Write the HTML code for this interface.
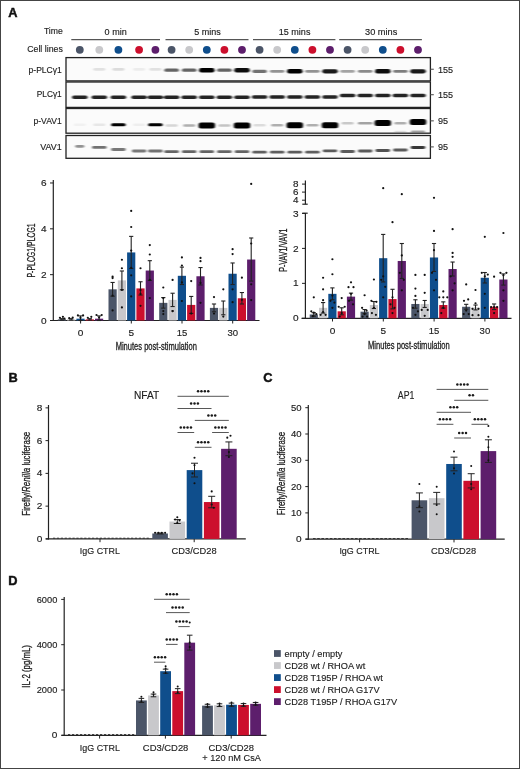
<!DOCTYPE html>
<html><head><meta charset="utf-8"><style>
html,body{margin:0;padding:0;background:#fff;}
#w{position:relative;width:520px;height:769px;overflow:hidden;}
svg{position:absolute;left:0;top:0;font-family:"Liberation Sans", sans-serif;will-change:transform;}
#b{position:absolute;left:0;top:0;width:518px;height:767px;border:1px solid #444;}
</style></head><body><div id="w">
<svg width="520" height="769" viewBox="0 0 520 769">
<rect x="0" y="0" width="520" height="769" fill="#fff"/>
<text x="8.2" y="17" font-size="12.8" font-weight="bold" fill="#111" stroke="#111" stroke-width="0.45">A</text>
<text x="62.8" y="34.4" font-size="9.3" text-anchor="end" textLength="18.9" lengthAdjust="spacingAndGlyphs" fill="#222" stroke="#222" stroke-width="0.15">Time</text>
<text x="62.8" y="51.7" font-size="9.3" text-anchor="end" textLength="35.6" lengthAdjust="spacingAndGlyphs" fill="#222" stroke="#222" stroke-width="0.15">Cell lines</text>
<text x="104.6" y="34.6" font-size="9" textLength="22.1" lengthAdjust="spacingAndGlyphs" fill="#222" stroke="#222" stroke-width="0.15">0 min</text>
<text x="194.2" y="34.6" font-size="9" textLength="26.6" lengthAdjust="spacingAndGlyphs" fill="#222" stroke="#222" stroke-width="0.15">5 mins</text>
<text x="278.8" y="34.6" font-size="9" textLength="31.6" lengthAdjust="spacingAndGlyphs" fill="#222" stroke="#222" stroke-width="0.15">15 mins</text>
<text x="365.0" y="34.6" font-size="9" textLength="32.3" lengthAdjust="spacingAndGlyphs" fill="#222" stroke="#222" stroke-width="0.15">30 mins</text>
<line x1="71.3" y1="39.6" x2="160" y2="39.6" stroke="#555" stroke-width="1.3"/>
<line x1="165.5" y1="39.6" x2="248.5" y2="39.6" stroke="#555" stroke-width="1.3"/>
<line x1="253" y1="39.6" x2="335.4" y2="39.6" stroke="#555" stroke-width="1.3"/>
<line x1="339.2" y1="39.6" x2="421.9" y2="39.6" stroke="#555" stroke-width="1.3"/>
<circle cx="79.80" cy="49.80" r="3.9" fill="#4b5568"/>
<circle cx="99.30" cy="49.80" r="3.9" fill="#c8c8cb"/>
<circle cx="118.40" cy="49.80" r="3.9" fill="#0f4e8c"/>
<circle cx="139.10" cy="49.80" r="3.9" fill="#cc0f2d"/>
<circle cx="155.40" cy="49.80" r="3.9" fill="#5d1e6c"/>
<circle cx="171.60" cy="49.80" r="3.9" fill="#4b5568"/>
<circle cx="189.20" cy="49.80" r="3.9" fill="#c8c8cb"/>
<circle cx="206.80" cy="49.80" r="3.9" fill="#0f4e8c"/>
<circle cx="224.40" cy="49.80" r="3.9" fill="#cc0f2d"/>
<circle cx="242.00" cy="49.80" r="3.9" fill="#5d1e6c"/>
<circle cx="259.60" cy="49.80" r="3.9" fill="#4b5568"/>
<circle cx="277.20" cy="49.80" r="3.9" fill="#c8c8cb"/>
<circle cx="294.80" cy="49.80" r="3.9" fill="#0f4e8c"/>
<circle cx="312.40" cy="49.80" r="3.9" fill="#cc0f2d"/>
<circle cx="330.00" cy="49.80" r="3.9" fill="#5d1e6c"/>
<circle cx="347.60" cy="49.80" r="3.9" fill="#4b5568"/>
<circle cx="365.20" cy="49.80" r="3.9" fill="#c8c8cb"/>
<circle cx="382.80" cy="49.80" r="3.9" fill="#0f4e8c"/>
<circle cx="400.40" cy="49.80" r="3.9" fill="#cc0f2d"/>
<circle cx="418.00" cy="49.80" r="3.9" fill="#5d1e6c"/>
<defs><filter id="bl" x="-30%" y="-100%" width="160%" height="300%"><feGaussianBlur stdDeviation="1.0 0.75"/></filter></defs>
<rect x="66.00" y="57.60" width="364.40" height="23.30" fill="#fbfbfb"/>
<rect x="66.00" y="82.00" width="364.40" height="25.40" fill="#fbfbfb"/>
<rect x="66.00" y="108.50" width="364.40" height="24.70" fill="#fbfbfb"/>
<rect x="66.00" y="135.50" width="364.40" height="22.80" fill="#fbfbfb"/>
<g filter="url(#bl)">
<rect x="93.30" y="67.90" width="12" height="2.80" rx="1.40" fill="#000" fill-opacity="0.10"/>
<rect x="112.40" y="67.90" width="12" height="2.80" rx="1.40" fill="#000" fill-opacity="0.12"/>
<rect x="133.10" y="67.90" width="12" height="2.80" rx="1.40" fill="#000" fill-opacity="0.06"/>
<rect x="149.40" y="67.90" width="12" height="2.80" rx="1.40" fill="#000" fill-opacity="0.10"/>
<rect x="164.35" y="68.54" width="14.5" height="3.32" rx="1.66" fill="#000" fill-opacity="0.60"/>
<rect x="181.95" y="68.54" width="14.5" height="3.32" rx="1.66" fill="#000" fill-opacity="0.60"/>
<rect x="199.05" y="67.90" width="15.5" height="4.60" rx="2.30" fill="#000" fill-opacity="1.00"/>
<rect x="217.15" y="68.54" width="14.5" height="3.32" rx="1.66" fill="#000" fill-opacity="0.60"/>
<rect x="234.25" y="67.98" width="15.5" height="4.44" rx="2.22" fill="#000" fill-opacity="0.95"/>
<rect x="252.35" y="69.72" width="14.5" height="3.16" rx="1.58" fill="#000" fill-opacity="0.55"/>
<rect x="269.95" y="69.90" width="14.5" height="2.80" rx="1.40" fill="#000" fill-opacity="0.42"/>
<rect x="287.05" y="69.00" width="15.5" height="4.60" rx="2.30" fill="#000" fill-opacity="1.00"/>
<rect x="305.15" y="69.90" width="14.5" height="2.80" rx="1.40" fill="#000" fill-opacity="0.42"/>
<rect x="322.25" y="69.16" width="15.5" height="4.28" rx="2.14" fill="#000" fill-opacity="0.90"/>
<rect x="340.35" y="69.90" width="14.5" height="2.80" rx="1.40" fill="#000" fill-opacity="0.35"/>
<rect x="357.95" y="69.90" width="14.5" height="2.80" rx="1.40" fill="#000" fill-opacity="0.45"/>
<rect x="375.05" y="69.08" width="15.5" height="4.44" rx="2.22" fill="#000" fill-opacity="0.95"/>
<rect x="393.15" y="69.90" width="14.5" height="2.80" rx="1.40" fill="#000" fill-opacity="0.50"/>
<rect x="410.25" y="69.16" width="15.5" height="4.28" rx="2.14" fill="#000" fill-opacity="0.90"/>
</g>
<g filter="url(#bl)">
<rect x="72.05" y="95.45" width="15.5" height="3.50" rx="1.75" fill="#000" fill-opacity="0.86"/>
<rect x="91.55" y="95.45" width="15.5" height="3.50" rx="1.75" fill="#000" fill-opacity="0.86"/>
<rect x="110.65" y="95.45" width="15.5" height="3.50" rx="1.75" fill="#000" fill-opacity="0.86"/>
<rect x="131.35" y="95.45" width="15.5" height="3.50" rx="1.75" fill="#000" fill-opacity="0.86"/>
<rect x="147.65" y="95.45" width="15.5" height="3.50" rx="1.75" fill="#000" fill-opacity="0.86"/>
<rect x="163.85" y="95.45" width="15.5" height="3.50" rx="1.75" fill="#000" fill-opacity="0.86"/>
<rect x="181.45" y="95.45" width="15.5" height="3.50" rx="1.75" fill="#000" fill-opacity="0.86"/>
<rect x="199.05" y="95.45" width="15.5" height="3.50" rx="1.75" fill="#000" fill-opacity="0.86"/>
<rect x="216.65" y="95.45" width="15.5" height="3.50" rx="1.75" fill="#000" fill-opacity="0.86"/>
<rect x="234.25" y="95.45" width="15.5" height="3.50" rx="1.75" fill="#000" fill-opacity="0.86"/>
<rect x="251.85" y="95.25" width="15.5" height="3.50" rx="1.75" fill="#000" fill-opacity="0.86"/>
<rect x="269.45" y="95.25" width="15.5" height="3.50" rx="1.75" fill="#000" fill-opacity="0.86"/>
<rect x="287.05" y="95.25" width="15.5" height="3.50" rx="1.75" fill="#000" fill-opacity="0.86"/>
<rect x="304.65" y="95.25" width="15.5" height="3.50" rx="1.75" fill="#000" fill-opacity="0.86"/>
<rect x="322.25" y="95.25" width="15.5" height="3.50" rx="1.75" fill="#000" fill-opacity="0.86"/>
<rect x="339.85" y="93.75" width="15.5" height="3.50" rx="1.75" fill="#000" fill-opacity="0.86"/>
<rect x="357.45" y="93.75" width="15.5" height="3.50" rx="1.75" fill="#000" fill-opacity="0.86"/>
<rect x="375.05" y="93.75" width="15.5" height="3.50" rx="1.75" fill="#000" fill-opacity="0.86"/>
<rect x="392.65" y="93.75" width="15.5" height="3.50" rx="1.75" fill="#000" fill-opacity="0.86"/>
<rect x="410.25" y="93.75" width="15.5" height="3.50" rx="1.75" fill="#000" fill-opacity="0.86"/>
</g>
<g filter="url(#bl)">
<rect x="73.80" y="123.40" width="12" height="2.60" rx="1.30" fill="#000" fill-opacity="0.04"/>
<rect x="93.30" y="123.40" width="12" height="2.60" rx="1.30" fill="#000" fill-opacity="0.08"/>
<rect x="111.15" y="123.20" width="14.5" height="3.00" rx="1.50" fill="#000" fill-opacity="1.00"/>
<rect x="133.10" y="123.40" width="12" height="2.60" rx="1.30" fill="#000" fill-opacity="0.05"/>
<rect x="148.15" y="123.20" width="14.5" height="3.00" rx="1.50" fill="#000" fill-opacity="1.00"/>
<rect x="165.60" y="124.20" width="12" height="2.60" rx="1.30" fill="#000" fill-opacity="0.15"/>
<rect x="183.20" y="124.20" width="12" height="2.60" rx="1.30" fill="#000" fill-opacity="0.30"/>
<rect x="198.55" y="122.50" width="16.5" height="6.00" rx="2.50" fill="#000" fill-opacity="1.00"/>
<rect x="218.40" y="124.20" width="12" height="2.60" rx="1.30" fill="#000" fill-opacity="0.22"/>
<rect x="233.75" y="122.50" width="16.5" height="6.00" rx="2.50" fill="#000" fill-opacity="1.00"/>
<rect x="253.60" y="123.90" width="12" height="2.60" rx="1.30" fill="#000" fill-opacity="0.12"/>
<rect x="271.20" y="123.90" width="12" height="2.60" rx="1.30" fill="#000" fill-opacity="0.30"/>
<rect x="286.55" y="122.20" width="16.5" height="6.00" rx="2.50" fill="#000" fill-opacity="1.00"/>
<rect x="306.40" y="123.90" width="12" height="2.60" rx="1.30" fill="#000" fill-opacity="0.30"/>
<rect x="321.75" y="122.20" width="16.5" height="6.00" rx="2.50" fill="#000" fill-opacity="1.00"/>
<rect x="341.60" y="121.90" width="12" height="2.60" rx="1.30" fill="#000" fill-opacity="0.20"/>
<rect x="357.95" y="121.90" width="14.5" height="2.60" rx="1.30" fill="#000" fill-opacity="0.35"/>
<rect x="374.55" y="119.90" width="16.5" height="6.00" rx="2.50" fill="#000" fill-opacity="1.00"/>
<rect x="394.40" y="121.90" width="12" height="2.60" rx="1.30" fill="#000" fill-opacity="0.30"/>
<rect x="409.75" y="118.90" width="16.5" height="6.00" rx="2.50" fill="#000" fill-opacity="1.00"/>
<rect x="411.00" y="130.6" width="14" height="2" rx="1" fill="#000" fill-opacity="0.35"/>
<rect x="394.40" y="130.8" width="12" height="1.8" rx="0.9" fill="#000" fill-opacity="0.12"/>
</g>
<g filter="url(#bl)">
<rect x="75.30" y="144.90" width="9" height="2.80" rx="1.40" fill="#000" fill-opacity="0.42"/>
<rect x="92.05" y="146.00" width="14.5" height="2.80" rx="1.40" fill="#000" fill-opacity="0.55"/>
<rect x="111.15" y="148.10" width="14.5" height="2.80" rx="1.40" fill="#000" fill-opacity="0.52"/>
<rect x="131.85" y="149.60" width="14.5" height="2.80" rx="1.40" fill="#000" fill-opacity="0.52"/>
<rect x="148.15" y="149.60" width="14.5" height="2.80" rx="1.40" fill="#000" fill-opacity="0.55"/>
<rect x="164.35" y="150.30" width="14.5" height="2.80" rx="1.40" fill="#000" fill-opacity="0.60"/>
<rect x="181.95" y="150.30" width="14.5" height="2.80" rx="1.40" fill="#000" fill-opacity="0.60"/>
<rect x="199.55" y="150.30" width="14.5" height="2.80" rx="1.40" fill="#000" fill-opacity="0.60"/>
<rect x="217.15" y="150.30" width="14.5" height="2.80" rx="1.40" fill="#000" fill-opacity="0.60"/>
<rect x="234.75" y="150.30" width="14.5" height="2.80" rx="1.40" fill="#000" fill-opacity="0.60"/>
<rect x="252.35" y="150.80" width="14.5" height="2.80" rx="1.40" fill="#000" fill-opacity="0.62"/>
<rect x="269.95" y="150.80" width="14.5" height="2.80" rx="1.40" fill="#000" fill-opacity="0.62"/>
<rect x="287.55" y="150.80" width="14.5" height="2.80" rx="1.40" fill="#000" fill-opacity="0.64"/>
<rect x="305.15" y="150.80" width="14.5" height="2.80" rx="1.40" fill="#000" fill-opacity="0.62"/>
<rect x="322.75" y="149.40" width="14.5" height="2.80" rx="1.40" fill="#000" fill-opacity="0.64"/>
<rect x="340.35" y="150.10" width="14.5" height="2.80" rx="1.40" fill="#000" fill-opacity="0.64"/>
<rect x="357.95" y="149.60" width="14.5" height="2.80" rx="1.40" fill="#000" fill-opacity="0.64"/>
<rect x="375.55" y="149.10" width="14.5" height="2.80" rx="1.40" fill="#000" fill-opacity="0.68"/>
<rect x="393.15" y="148.60" width="14.5" height="2.80" rx="1.40" fill="#000" fill-opacity="0.64"/>
<rect x="410.75" y="146.10" width="14.5" height="2.80" rx="1.40" fill="#000" fill-opacity="0.78"/>
</g>
<rect x="66" y="57.6" width="364.4" height="23.300000000000004" fill="none" stroke="#222" stroke-width="1.3"/>
<text x="61.7" y="72.7" font-size="9" text-anchor="end" textLength="33.1" lengthAdjust="spacingAndGlyphs" fill="#222" stroke="#222" stroke-width="0.15">p-PLC&#947;1</text>
<line x1="430.4" y1="69.25" x2="433.79999999999995" y2="69.25" stroke="#555" stroke-width="1.1"/>
<text x="438.0" y="72.55" font-size="9.2" textLength="15.1" lengthAdjust="spacingAndGlyphs" fill="#222" stroke="#222" stroke-width="0.15">155</text>
<rect x="66" y="82.0" width="364.4" height="25.400000000000006" fill="none" stroke="#222" stroke-width="1.3"/>
<text x="61.7" y="97.4" font-size="9" text-anchor="end" textLength="25.0" lengthAdjust="spacingAndGlyphs" fill="#222" stroke="#222" stroke-width="0.15">PLC&#947;1</text>
<line x1="430.4" y1="94.7" x2="433.79999999999995" y2="94.7" stroke="#555" stroke-width="1.1"/>
<text x="438.0" y="98.0" font-size="9.2" textLength="15.1" lengthAdjust="spacingAndGlyphs" fill="#222" stroke="#222" stroke-width="0.15">155</text>
<rect x="66" y="108.5" width="364.4" height="24.69999999999999" fill="none" stroke="#222" stroke-width="1.3"/>
<text x="61.7" y="124.1" font-size="9" text-anchor="end" textLength="28.2" lengthAdjust="spacingAndGlyphs" fill="#222" stroke="#222" stroke-width="0.15">p-VAV1</text>
<line x1="430.4" y1="120.85" x2="433.79999999999995" y2="120.85" stroke="#555" stroke-width="1.1"/>
<text x="438.0" y="124.14999999999999" font-size="9.2" textLength="10.1" lengthAdjust="spacingAndGlyphs" fill="#222" stroke="#222" stroke-width="0.15">95</text>
<rect x="66" y="135.5" width="364.4" height="22.80000000000001" fill="none" stroke="#222" stroke-width="1.3"/>
<text x="61.7" y="149.7" font-size="9" text-anchor="end" textLength="21.5" lengthAdjust="spacingAndGlyphs" fill="#222" stroke="#222" stroke-width="0.15">VAV1</text>
<line x1="430.4" y1="146.9" x2="433.79999999999995" y2="146.9" stroke="#555" stroke-width="1.1"/>
<text x="438.0" y="150.20000000000002" font-size="9.2" textLength="10.1" lengthAdjust="spacingAndGlyphs" fill="#222" stroke="#222" stroke-width="0.15">95</text>
<line x1="53.3" y1="180" x2="53.3" y2="321" stroke="#222" stroke-width="1.2"/>
<line x1="50" y1="320.5" x2="259.5" y2="320.5" stroke="#222" stroke-width="1.2"/>
<line x1="50" y1="320.5" x2="53.3" y2="320.5" stroke="#222" stroke-width="1"/>
<text x="46.5" y="323.61" font-size="8.7" text-anchor="end" textLength="5.6" lengthAdjust="spacingAndGlyphs" fill="#222" stroke="#222" stroke-width="0.14">0</text>
<line x1="50" y1="274.65999999999997" x2="53.3" y2="274.65999999999997" stroke="#222" stroke-width="1"/>
<text x="46.5" y="277.77" font-size="8.7" text-anchor="end" textLength="5.6" lengthAdjust="spacingAndGlyphs" fill="#222" stroke="#222" stroke-width="0.14">2</text>
<line x1="50" y1="228.82" x2="53.3" y2="228.82" stroke="#222" stroke-width="1"/>
<text x="46.5" y="231.93" font-size="8.7" text-anchor="end" textLength="5.6" lengthAdjust="spacingAndGlyphs" fill="#222" stroke="#222" stroke-width="0.14">4</text>
<line x1="50" y1="182.98" x2="53.3" y2="182.98" stroke="#222" stroke-width="1"/>
<text x="46.5" y="186.09" font-size="8.7" text-anchor="end" textLength="5.6" lengthAdjust="spacingAndGlyphs" fill="#222" stroke="#222" stroke-width="0.14">6</text>
<text x="0" y="0" font-size="10.3" text-anchor="middle" textLength="54.2" lengthAdjust="spacingAndGlyphs" fill="#222" stroke="#222" stroke-width="0.3" transform="translate(34.8,250.4) rotate(-90)">P-PLCG1/PLCG1</text>
<rect x="57.80" y="319.35" width="8.20" height="1.15" fill="#4b5568"/>
<rect x="67.10" y="319.35" width="8.20" height="1.15" fill="#c8c8cb"/>
<rect x="76.40" y="318.67" width="8.20" height="1.83" fill="#0f4e8c"/>
<rect x="85.70" y="319.35" width="8.20" height="1.15" fill="#cc0f2d"/>
<rect x="95.00" y="318.67" width="8.20" height="1.83" fill="#5d1e6c"/>
<line x1="61.9" y1="318.6664" x2="61.9" y2="320.0416" stroke="#222" stroke-width="1.1"/>
<line x1="59.8" y1="318.6664" x2="64.0" y2="318.6664" stroke="#222" stroke-width="1.1"/>
<line x1="59.8" y1="320.0416" x2="64.0" y2="320.0416" stroke="#222" stroke-width="1.1"/>
<circle cx="59.90" cy="317.75" r="1.1" fill="#111"/>
<circle cx="62.90" cy="316.83" r="1.1" fill="#111"/>
<circle cx="64.50" cy="318.67" r="1.1" fill="#111"/>
<line x1="71.19999999999999" y1="318.6664" x2="71.19999999999999" y2="320.0416" stroke="#222" stroke-width="1.1"/>
<line x1="69.1" y1="318.6664" x2="73.29999999999998" y2="318.6664" stroke="#222" stroke-width="1.1"/>
<line x1="69.1" y1="320.0416" x2="73.29999999999998" y2="320.0416" stroke="#222" stroke-width="1.1"/>
<circle cx="69.20" cy="318.21" r="1.1" fill="#111"/>
<circle cx="72.70" cy="317.52" r="1.1" fill="#111"/>
<line x1="80.5" y1="315.916" x2="80.5" y2="320.5" stroke="#222" stroke-width="1.1"/>
<line x1="78.4" y1="315.916" x2="82.6" y2="315.916" stroke="#222" stroke-width="1.1"/>
<line x1="78.4" y1="320.5" x2="82.6" y2="320.5" stroke="#222" stroke-width="1.1"/>
<circle cx="77.90" cy="315.46" r="1.1" fill="#111"/>
<circle cx="83.10" cy="315.46" r="1.1" fill="#111"/>
<circle cx="80.50" cy="317.75" r="1.1" fill="#111"/>
<line x1="89.8" y1="318.6664" x2="89.8" y2="320.0416" stroke="#222" stroke-width="1.1"/>
<line x1="87.7" y1="318.6664" x2="91.89999999999999" y2="318.6664" stroke="#222" stroke-width="1.1"/>
<line x1="87.7" y1="320.0416" x2="91.89999999999999" y2="320.0416" stroke="#222" stroke-width="1.1"/>
<circle cx="87.80" cy="317.75" r="1.1" fill="#111"/>
<circle cx="91.30" cy="316.83" r="1.1" fill="#111"/>
<line x1="99.1" y1="315.916" x2="99.1" y2="320.5" stroke="#222" stroke-width="1.1"/>
<line x1="97.0" y1="315.916" x2="101.19999999999999" y2="315.916" stroke="#222" stroke-width="1.1"/>
<line x1="97.0" y1="320.5" x2="101.19999999999999" y2="320.5" stroke="#222" stroke-width="1.1"/>
<circle cx="96.50" cy="315.00" r="1.1" fill="#111"/>
<circle cx="101.70" cy="315.00" r="1.1" fill="#111"/>
<circle cx="99.10" cy="317.52" r="1.1" fill="#111"/>
<line x1="80.6" y1="320.5" x2="80.6" y2="323.5" stroke="#222" stroke-width="1"/>
<text x="80.6" y="335.61" font-size="8.7" text-anchor="middle" textLength="5.6" lengthAdjust="spacingAndGlyphs" fill="#222" stroke="#222" stroke-width="0.14">0</text>
<rect x="108.50" y="289.33" width="8.20" height="31.17" fill="#4b5568"/>
<rect x="117.80" y="280.39" width="8.20" height="40.11" fill="#c8c8cb"/>
<rect x="127.10" y="252.43" width="8.20" height="68.07" fill="#0f4e8c"/>
<rect x="136.40" y="288.41" width="8.20" height="32.09" fill="#cc0f2d"/>
<rect x="145.70" y="270.53" width="8.20" height="49.97" fill="#5d1e6c"/>
<line x1="112.6" y1="282.4528" x2="112.6" y2="296.2048" stroke="#222" stroke-width="1.1"/>
<line x1="110.5" y1="282.4528" x2="114.69999999999999" y2="282.4528" stroke="#222" stroke-width="1.1"/>
<line x1="110.5" y1="296.2048" x2="114.69999999999999" y2="296.2048" stroke="#222" stroke-width="1.1"/>
<circle cx="112.60" cy="276.72" r="1.1" fill="#111"/>
<circle cx="112.60" cy="278.10" r="1.1" fill="#111"/>
<circle cx="112.60" cy="295.52" r="1.1" fill="#111"/>
<circle cx="112.60" cy="310.42" r="1.1" fill="#111"/>
<line x1="121.89999999999999" y1="270.9928" x2="121.89999999999999" y2="289.7872" stroke="#222" stroke-width="1.1"/>
<line x1="119.8" y1="270.9928" x2="123.99999999999999" y2="270.9928" stroke="#222" stroke-width="1.1"/>
<line x1="119.8" y1="289.7872" x2="123.99999999999999" y2="289.7872" stroke="#222" stroke-width="1.1"/>
<circle cx="121.90" cy="259.76" r="1.1" fill="#111"/>
<circle cx="121.90" cy="268.24" r="1.1" fill="#111"/>
<circle cx="121.90" cy="290.02" r="1.1" fill="#111"/>
<circle cx="121.90" cy="307.44" r="1.1" fill="#111"/>
<line x1="131.2" y1="236.3836" x2="131.2" y2="268.47159999999997" stroke="#222" stroke-width="1.1"/>
<line x1="129.1" y1="236.3836" x2="133.29999999999998" y2="236.3836" stroke="#222" stroke-width="1.1"/>
<line x1="129.1" y1="268.47159999999997" x2="133.29999999999998" y2="268.47159999999997" stroke="#222" stroke-width="1.1"/>
<circle cx="131.20" cy="210.94" r="1.1" fill="#111"/>
<circle cx="131.20" cy="226.99" r="1.1" fill="#111"/>
<circle cx="131.20" cy="250.59" r="1.1" fill="#111"/>
<circle cx="131.20" cy="267.78" r="1.1" fill="#111"/>
<circle cx="131.20" cy="275.35" r="1.1" fill="#111"/>
<circle cx="131.20" cy="296.43" r="1.1" fill="#111"/>
<line x1="140.5" y1="281.7652" x2="140.5" y2="295.0588" stroke="#222" stroke-width="1.1"/>
<line x1="138.4" y1="281.7652" x2="142.6" y2="281.7652" stroke="#222" stroke-width="1.1"/>
<line x1="138.4" y1="295.0588" x2="142.6" y2="295.0588" stroke="#222" stroke-width="1.1"/>
<circle cx="140.50" cy="268.24" r="1.1" fill="#111"/>
<circle cx="140.50" cy="290.02" r="1.1" fill="#111"/>
<circle cx="140.50" cy="293.91" r="1.1" fill="#111"/>
<circle cx="140.50" cy="305.83" r="1.1" fill="#111"/>
<line x1="149.79999999999998" y1="260.67879999999997" x2="149.79999999999998" y2="280.39" stroke="#222" stroke-width="1.1"/>
<line x1="147.7" y1="260.67879999999997" x2="151.89999999999998" y2="260.67879999999997" stroke="#222" stroke-width="1.1"/>
<line x1="147.7" y1="280.39" x2="151.89999999999998" y2="280.39" stroke="#222" stroke-width="1.1"/>
<circle cx="149.80" cy="245.09" r="1.1" fill="#111"/>
<circle cx="149.80" cy="254.49" r="1.1" fill="#111"/>
<circle cx="149.80" cy="279.93" r="1.1" fill="#111"/>
<circle cx="149.80" cy="298.04" r="1.1" fill="#111"/>
<line x1="131.3" y1="320.5" x2="131.3" y2="323.5" stroke="#222" stroke-width="1"/>
<text x="131.3" y="335.61" font-size="8.7" text-anchor="middle" textLength="5.6" lengthAdjust="spacingAndGlyphs" fill="#222" stroke="#222" stroke-width="0.14">5</text>
<rect x="159.20" y="302.85" width="8.20" height="17.65" fill="#4b5568"/>
<rect x="168.50" y="299.87" width="8.20" height="20.63" fill="#c8c8cb"/>
<rect x="177.80" y="275.81" width="8.20" height="44.69" fill="#0f4e8c"/>
<rect x="187.10" y="304.91" width="8.20" height="15.59" fill="#cc0f2d"/>
<rect x="196.40" y="276.26" width="8.20" height="44.24" fill="#5d1e6c"/>
<line x1="163.29999999999998" y1="297.58" x2="163.29999999999998" y2="308.1232" stroke="#222" stroke-width="1.1"/>
<line x1="161.2" y1="297.58" x2="165.39999999999998" y2="297.58" stroke="#222" stroke-width="1.1"/>
<line x1="161.2" y1="308.1232" x2="165.39999999999998" y2="308.1232" stroke="#222" stroke-width="1.1"/>
<circle cx="163.30" cy="287.50" r="1.1" fill="#111"/>
<circle cx="163.30" cy="298.04" r="1.1" fill="#111"/>
<circle cx="163.30" cy="311.10" r="1.1" fill="#111"/>
<circle cx="163.30" cy="314.08" r="1.1" fill="#111"/>
<line x1="172.6" y1="293.2252" x2="172.6" y2="306.5188" stroke="#222" stroke-width="1.1"/>
<line x1="170.5" y1="293.2252" x2="174.7" y2="293.2252" stroke="#222" stroke-width="1.1"/>
<line x1="170.5" y1="306.5188" x2="174.7" y2="306.5188" stroke="#222" stroke-width="1.1"/>
<circle cx="172.60" cy="279.93" r="1.1" fill="#111"/>
<circle cx="172.60" cy="311.10" r="1.1" fill="#111"/>
<circle cx="172.60" cy="311.10" r="1.1" fill="#111"/>
<line x1="181.89999999999998" y1="267.0964" x2="181.89999999999998" y2="284.5156" stroke="#222" stroke-width="1.1"/>
<line x1="179.79999999999998" y1="267.0964" x2="183.99999999999997" y2="267.0964" stroke="#222" stroke-width="1.1"/>
<line x1="179.79999999999998" y1="284.5156" x2="183.99999999999997" y2="284.5156" stroke="#222" stroke-width="1.1"/>
<circle cx="181.90" cy="257.47" r="1.1" fill="#111"/>
<circle cx="181.90" cy="265.49" r="1.1" fill="#111"/>
<circle cx="181.90" cy="282.45" r="1.1" fill="#111"/>
<circle cx="181.90" cy="301.02" r="1.1" fill="#111"/>
<line x1="191.2" y1="296.43399999999997" x2="191.2" y2="313.3948" stroke="#222" stroke-width="1.1"/>
<line x1="189.1" y1="296.43399999999997" x2="193.29999999999998" y2="296.43399999999997" stroke="#222" stroke-width="1.1"/>
<line x1="189.1" y1="313.3948" x2="193.29999999999998" y2="313.3948" stroke="#222" stroke-width="1.1"/>
<circle cx="191.20" cy="281.08" r="1.1" fill="#111"/>
<circle cx="191.20" cy="313.62" r="1.1" fill="#111"/>
<line x1="200.49999999999997" y1="267.5548" x2="200.49999999999997" y2="284.974" stroke="#222" stroke-width="1.1"/>
<line x1="198.39999999999998" y1="267.5548" x2="202.59999999999997" y2="267.5548" stroke="#222" stroke-width="1.1"/>
<line x1="198.39999999999998" y1="284.974" x2="202.59999999999997" y2="284.974" stroke="#222" stroke-width="1.1"/>
<circle cx="200.50" cy="257.93" r="1.1" fill="#111"/>
<circle cx="200.50" cy="261.14" r="1.1" fill="#111"/>
<circle cx="200.50" cy="282.91" r="1.1" fill="#111"/>
<circle cx="200.50" cy="302.85" r="1.1" fill="#111"/>
<line x1="182.0" y1="320.5" x2="182.0" y2="323.5" stroke="#222" stroke-width="1"/>
<text x="182.0" y="335.61" font-size="8.7" text-anchor="middle" textLength="10.6" lengthAdjust="spacingAndGlyphs" fill="#222" stroke="#222" stroke-width="0.14">15</text>
<rect x="209.90" y="307.89" width="8.20" height="12.61" fill="#4b5568"/>
<rect x="219.20" y="307.89" width="8.20" height="12.61" fill="#c8c8cb"/>
<rect x="228.50" y="273.74" width="8.20" height="46.76" fill="#0f4e8c"/>
<rect x="237.80" y="298.27" width="8.20" height="22.23" fill="#cc0f2d"/>
<rect x="247.10" y="259.53" width="8.20" height="60.97" fill="#5d1e6c"/>
<line x1="214.0" y1="303.9976" x2="214.0" y2="311.7904" stroke="#222" stroke-width="1.1"/>
<line x1="211.9" y1="303.9976" x2="216.1" y2="303.9976" stroke="#222" stroke-width="1.1"/>
<line x1="211.9" y1="311.7904" x2="216.1" y2="311.7904" stroke="#222" stroke-width="1.1"/>
<circle cx="214.00" cy="297.12" r="1.1" fill="#111"/>
<circle cx="214.00" cy="313.62" r="1.1" fill="#111"/>
<line x1="223.3" y1="301.018" x2="223.3" y2="314.77" stroke="#222" stroke-width="1.1"/>
<line x1="221.20000000000002" y1="301.018" x2="225.4" y2="301.018" stroke="#222" stroke-width="1.1"/>
<line x1="221.20000000000002" y1="314.77" x2="225.4" y2="314.77" stroke="#222" stroke-width="1.1"/>
<circle cx="223.30" cy="289.33" r="1.1" fill="#111"/>
<circle cx="223.30" cy="316.60" r="1.1" fill="#111"/>
<line x1="232.6" y1="262.9708" x2="232.6" y2="284.5156" stroke="#222" stroke-width="1.1"/>
<line x1="230.5" y1="262.9708" x2="234.7" y2="262.9708" stroke="#222" stroke-width="1.1"/>
<line x1="230.5" y1="284.5156" x2="234.7" y2="284.5156" stroke="#222" stroke-width="1.1"/>
<circle cx="232.60" cy="249.22" r="1.1" fill="#111"/>
<circle cx="232.60" cy="254.03" r="1.1" fill="#111"/>
<circle cx="232.60" cy="289.33" r="1.1" fill="#111"/>
<circle cx="232.60" cy="302.16" r="1.1" fill="#111"/>
<line x1="241.9" y1="292.5376" x2="241.9" y2="303.9976" stroke="#222" stroke-width="1.1"/>
<line x1="239.8" y1="292.5376" x2="244.0" y2="292.5376" stroke="#222" stroke-width="1.1"/>
<line x1="239.8" y1="303.9976" x2="244.0" y2="303.9976" stroke="#222" stroke-width="1.1"/>
<circle cx="241.90" cy="277.64" r="1.1" fill="#111"/>
<circle cx="241.90" cy="299.87" r="1.1" fill="#111"/>
<line x1="251.20000000000002" y1="237.988" x2="251.20000000000002" y2="281.07759999999996" stroke="#222" stroke-width="1.1"/>
<line x1="249.10000000000002" y1="237.988" x2="253.3" y2="237.988" stroke="#222" stroke-width="1.1"/>
<line x1="249.10000000000002" y1="281.07759999999996" x2="253.3" y2="281.07759999999996" stroke="#222" stroke-width="1.1"/>
<circle cx="251.20" cy="183.90" r="1.1" fill="#111"/>
<circle cx="251.20" cy="243.49" r="1.1" fill="#111"/>
<circle cx="251.20" cy="284.29" r="1.1" fill="#111"/>
<circle cx="251.20" cy="300.10" r="1.1" fill="#111"/>
<line x1="232.70000000000002" y1="320.5" x2="232.70000000000002" y2="323.5" stroke="#222" stroke-width="1"/>
<text x="232.7" y="335.61" font-size="8.7" text-anchor="middle" textLength="10.6" lengthAdjust="spacingAndGlyphs" fill="#222" stroke="#222" stroke-width="0.14">30</text>
<text x="156.3" y="350.4" font-size="10.2" text-anchor="middle" textLength="81.3" lengthAdjust="spacingAndGlyphs" fill="#222" stroke="#222" stroke-width="0.3">Minutes post-stimulation</text>
<line x1="305.4" y1="213" x2="305.4" y2="318.8" stroke="#222" stroke-width="1.2"/>
<line x1="305.4" y1="180.4" x2="305.4" y2="204.2" stroke="#222" stroke-width="1.2"/>
<line x1="302.3" y1="204.2" x2="307.7" y2="204.2" stroke="#222" stroke-width="1.2"/>
<line x1="302.3" y1="213.2" x2="307.7" y2="213.2" stroke="#222" stroke-width="1.2"/>
<line x1="301.5" y1="318.3" x2="511.5" y2="318.3" stroke="#222" stroke-width="1.2"/>
<line x1="302" y1="318.3" x2="305.4" y2="318.3" stroke="#222" stroke-width="1"/>
<text x="298.6" y="321.41" font-size="8.7" text-anchor="end" textLength="5.6" lengthAdjust="spacingAndGlyphs" fill="#222" stroke="#222" stroke-width="0.14">0</text>
<line x1="302" y1="283.35" x2="305.4" y2="283.35" stroke="#222" stroke-width="1"/>
<text x="298.6" y="286.46" font-size="8.7" text-anchor="end" textLength="5.6" lengthAdjust="spacingAndGlyphs" fill="#222" stroke="#222" stroke-width="0.14">1</text>
<line x1="302" y1="248.4" x2="305.4" y2="248.4" stroke="#222" stroke-width="1"/>
<text x="298.6" y="251.51" font-size="8.7" text-anchor="end" textLength="5.6" lengthAdjust="spacingAndGlyphs" fill="#222" stroke="#222" stroke-width="0.14">2</text>
<line x1="302" y1="213.45" x2="305.4" y2="213.45" stroke="#222" stroke-width="1"/>
<text x="298.6" y="216.56" font-size="8.7" text-anchor="end" textLength="5.6" lengthAdjust="spacingAndGlyphs" fill="#222" stroke="#222" stroke-width="0.14">3</text>
<line x1="302" y1="200.2" x2="305.4" y2="200.2" stroke="#222" stroke-width="1"/>
<text x="298.6" y="203.14" font-size="8.2" text-anchor="end" textLength="5.5" lengthAdjust="spacingAndGlyphs" fill="#222" stroke="#222" stroke-width="0.14">4</text>
<line x1="302" y1="192.1" x2="305.4" y2="192.1" stroke="#222" stroke-width="1"/>
<text x="298.6" y="195.04" font-size="8.2" text-anchor="end" textLength="5.5" lengthAdjust="spacingAndGlyphs" fill="#222" stroke="#222" stroke-width="0.14">6</text>
<line x1="302" y1="184.1" x2="305.4" y2="184.1" stroke="#222" stroke-width="1"/>
<text x="298.6" y="187.04" font-size="8.2" text-anchor="end" textLength="5.5" lengthAdjust="spacingAndGlyphs" fill="#222" stroke="#222" stroke-width="0.14">8</text>
<text x="0" y="0" font-size="10.3" text-anchor="middle" textLength="43.2" lengthAdjust="spacingAndGlyphs" fill="#222" stroke="#222" stroke-width="0.3" transform="translate(286.8,250.2) rotate(-90)">P-VAV1/VAV1</text>
<rect x="309.70" y="314.46" width="8.20" height="3.84" fill="#4b5568"/>
<rect x="319.00" y="307.81" width="8.20" height="10.49" fill="#c8c8cb"/>
<rect x="328.30" y="293.84" width="8.20" height="24.46" fill="#0f4e8c"/>
<rect x="337.60" y="311.31" width="8.20" height="6.99" fill="#cc0f2d"/>
<rect x="346.90" y="296.63" width="8.20" height="21.67" fill="#5d1e6c"/>
<line x1="313.8" y1="312.708" x2="313.8" y2="316.20300000000003" stroke="#222" stroke-width="1.1"/>
<line x1="311.7" y1="312.708" x2="315.90000000000003" y2="312.708" stroke="#222" stroke-width="1.1"/>
<line x1="311.7" y1="316.20300000000003" x2="315.90000000000003" y2="316.20300000000003" stroke="#222" stroke-width="1.1"/>
<circle cx="313.80" cy="297.33" r="1.1" fill="#111"/>
<circle cx="311.30" cy="311.31" r="1.1" fill="#111"/>
<circle cx="313.80" cy="312.71" r="1.1" fill="#111"/>
<circle cx="316.30" cy="314.11" r="1.1" fill="#111"/>
<circle cx="312.80" cy="316.20" r="1.1" fill="#111"/>
<line x1="323.1" y1="302.5725" x2="323.1" y2="313.0575" stroke="#222" stroke-width="1.1"/>
<line x1="321.0" y1="302.5725" x2="325.20000000000005" y2="302.5725" stroke="#222" stroke-width="1.1"/>
<line x1="321.0" y1="313.0575" x2="325.20000000000005" y2="313.0575" stroke="#222" stroke-width="1.1"/>
<circle cx="323.10" cy="277.76" r="1.1" fill="#111"/>
<circle cx="323.10" cy="289.29" r="1.1" fill="#111"/>
<circle cx="323.10" cy="300.13" r="1.1" fill="#111"/>
<circle cx="323.10" cy="312.01" r="1.1" fill="#111"/>
<circle cx="320.60" cy="314.81" r="1.1" fill="#111"/>
<circle cx="325.60" cy="314.81" r="1.1" fill="#111"/>
<line x1="332.40000000000003" y1="287.8935" x2="332.40000000000003" y2="299.7765" stroke="#222" stroke-width="1.1"/>
<line x1="330.3" y1="287.8935" x2="334.50000000000006" y2="287.8935" stroke="#222" stroke-width="1.1"/>
<line x1="330.3" y1="299.7765" x2="334.50000000000006" y2="299.7765" stroke="#222" stroke-width="1.1"/>
<circle cx="332.40" cy="259.23" r="1.1" fill="#111"/>
<circle cx="332.40" cy="274.26" r="1.1" fill="#111"/>
<circle cx="330.40" cy="300.82" r="1.1" fill="#111"/>
<circle cx="332.40" cy="295.58" r="1.1" fill="#111"/>
<circle cx="334.40" cy="302.57" r="1.1" fill="#111"/>
<circle cx="332.40" cy="307.81" r="1.1" fill="#111"/>
<line x1="341.7" y1="307.815" x2="341.7" y2="314.805" stroke="#222" stroke-width="1.1"/>
<line x1="339.59999999999997" y1="307.815" x2="343.8" y2="307.815" stroke="#222" stroke-width="1.1"/>
<line x1="339.59999999999997" y1="314.805" x2="343.8" y2="314.805" stroke="#222" stroke-width="1.1"/>
<circle cx="341.70" cy="298.03" r="1.1" fill="#111"/>
<circle cx="338.70" cy="306.77" r="1.1" fill="#111"/>
<circle cx="344.70" cy="306.77" r="1.1" fill="#111"/>
<circle cx="341.70" cy="313.06" r="1.1" fill="#111"/>
<circle cx="339.70" cy="316.55" r="1.1" fill="#111"/>
<line x1="351.0" y1="293.136" x2="351.0" y2="300.12600000000003" stroke="#222" stroke-width="1.1"/>
<line x1="348.9" y1="293.136" x2="353.1" y2="293.136" stroke="#222" stroke-width="1.1"/>
<line x1="348.9" y1="300.12600000000003" x2="353.1" y2="300.12600000000003" stroke="#222" stroke-width="1.1"/>
<circle cx="351.00" cy="282.30" r="1.1" fill="#111"/>
<circle cx="348.50" cy="287.19" r="1.1" fill="#111"/>
<circle cx="353.50" cy="287.19" r="1.1" fill="#111"/>
<circle cx="351.00" cy="293.84" r="1.1" fill="#111"/>
<circle cx="349.00" cy="300.82" r="1.1" fill="#111"/>
<circle cx="353.00" cy="304.32" r="1.1" fill="#111"/>
<line x1="332.5" y1="318.3" x2="332.5" y2="321.5" stroke="#222" stroke-width="1"/>
<text x="332.5" y="333.71" font-size="8.7" text-anchor="middle" textLength="5.6" lengthAdjust="spacingAndGlyphs" fill="#222" stroke="#222" stroke-width="0.14">0</text>
<rect x="360.50" y="311.66" width="8.20" height="6.64" fill="#4b5568"/>
<rect x="369.80" y="305.02" width="8.20" height="13.28" fill="#c8c8cb"/>
<rect x="379.10" y="258.19" width="8.20" height="60.11" fill="#0f4e8c"/>
<rect x="388.40" y="299.08" width="8.20" height="19.22" fill="#cc0f2d"/>
<rect x="397.70" y="260.98" width="8.20" height="57.32" fill="#5d1e6c"/>
<line x1="364.6" y1="309.5625" x2="364.6" y2="313.7565" stroke="#222" stroke-width="1.1"/>
<line x1="362.5" y1="309.5625" x2="366.70000000000005" y2="309.5625" stroke="#222" stroke-width="1.1"/>
<line x1="362.5" y1="313.7565" x2="366.70000000000005" y2="313.7565" stroke="#222" stroke-width="1.1"/>
<circle cx="364.60" cy="295.23" r="1.1" fill="#111"/>
<circle cx="362.10" cy="307.81" r="1.1" fill="#111"/>
<circle cx="366.60" cy="310.61" r="1.1" fill="#111"/>
<circle cx="364.60" cy="314.11" r="1.1" fill="#111"/>
<circle cx="362.60" cy="316.55" r="1.1" fill="#111"/>
<circle cx="367.10" cy="316.55" r="1.1" fill="#111"/>
<line x1="373.90000000000003" y1="301.524" x2="373.90000000000003" y2="308.514" stroke="#222" stroke-width="1.1"/>
<line x1="371.8" y1="301.524" x2="376.00000000000006" y2="301.524" stroke="#222" stroke-width="1.1"/>
<line x1="371.8" y1="308.514" x2="376.00000000000006" y2="308.514" stroke="#222" stroke-width="1.1"/>
<circle cx="373.90" cy="279.51" r="1.1" fill="#111"/>
<circle cx="371.40" cy="300.82" r="1.1" fill="#111"/>
<circle cx="376.40" cy="301.87" r="1.1" fill="#111"/>
<circle cx="373.90" cy="307.81" r="1.1" fill="#111"/>
<circle cx="371.90" cy="313.06" r="1.1" fill="#111"/>
<circle cx="375.90" cy="314.81" r="1.1" fill="#111"/>
<line x1="383.20000000000005" y1="234.42000000000002" x2="383.20000000000005" y2="281.952" stroke="#222" stroke-width="1.1"/>
<line x1="381.1" y1="234.42000000000002" x2="385.30000000000007" y2="234.42000000000002" stroke="#222" stroke-width="1.1"/>
<line x1="381.1" y1="281.952" x2="385.30000000000007" y2="281.952" stroke="#222" stroke-width="1.1"/>
<circle cx="383.20" cy="188.20" r="1.1" fill="#111"/>
<circle cx="383.20" cy="276.36" r="1.1" fill="#111"/>
<circle cx="381.20" cy="279.86" r="1.1" fill="#111"/>
<circle cx="385.20" cy="286.85" r="1.1" fill="#111"/>
<circle cx="383.20" cy="297.33" r="1.1" fill="#111"/>
<line x1="392.5" y1="289.2915" x2="392.5" y2="308.8635" stroke="#222" stroke-width="1.1"/>
<line x1="390.4" y1="289.2915" x2="394.6" y2="289.2915" stroke="#222" stroke-width="1.1"/>
<line x1="390.4" y1="308.8635" x2="394.6" y2="308.8635" stroke="#222" stroke-width="1.1"/>
<circle cx="392.50" cy="222.19" r="1.1" fill="#111"/>
<circle cx="392.50" cy="297.33" r="1.1" fill="#111"/>
<circle cx="390.50" cy="304.32" r="1.1" fill="#111"/>
<circle cx="394.50" cy="307.81" r="1.1" fill="#111"/>
<circle cx="392.50" cy="313.06" r="1.1" fill="#111"/>
<line x1="401.8" y1="243.507" x2="401.8" y2="278.457" stroke="#222" stroke-width="1.1"/>
<line x1="399.7" y1="243.507" x2="403.90000000000003" y2="243.507" stroke="#222" stroke-width="1.1"/>
<line x1="399.7" y1="278.457" x2="403.90000000000003" y2="278.457" stroke="#222" stroke-width="1.1"/>
<circle cx="401.80" cy="194.20" r="1.1" fill="#111"/>
<circle cx="401.80" cy="255.39" r="1.1" fill="#111"/>
<circle cx="399.80" cy="272.87" r="1.1" fill="#111"/>
<circle cx="403.80" cy="279.86" r="1.1" fill="#111"/>
<circle cx="401.80" cy="290.34" r="1.1" fill="#111"/>
<line x1="383.3" y1="318.3" x2="383.3" y2="321.5" stroke="#222" stroke-width="1"/>
<text x="383.3" y="333.71" font-size="8.7" text-anchor="middle" textLength="5.6" lengthAdjust="spacingAndGlyphs" fill="#222" stroke="#222" stroke-width="0.14">5</text>
<rect x="411.30" y="303.97" width="8.20" height="14.33" fill="#4b5568"/>
<rect x="420.60" y="303.97" width="8.20" height="14.33" fill="#c8c8cb"/>
<rect x="429.90" y="257.49" width="8.20" height="60.81" fill="#0f4e8c"/>
<rect x="439.20" y="305.02" width="8.20" height="13.28" fill="#cc0f2d"/>
<rect x="448.50" y="269.02" width="8.20" height="49.28" fill="#5d1e6c"/>
<line x1="415.40000000000003" y1="299.7765" x2="415.40000000000003" y2="308.16450000000003" stroke="#222" stroke-width="1.1"/>
<line x1="413.3" y1="299.7765" x2="417.50000000000006" y2="299.7765" stroke="#222" stroke-width="1.1"/>
<line x1="413.3" y1="308.16450000000003" x2="417.50000000000006" y2="308.16450000000003" stroke="#222" stroke-width="1.1"/>
<circle cx="415.40" cy="274.96" r="1.1" fill="#111"/>
<circle cx="415.40" cy="288.59" r="1.1" fill="#111"/>
<circle cx="415.40" cy="295.93" r="1.1" fill="#111"/>
<circle cx="412.90" cy="307.81" r="1.1" fill="#111"/>
<circle cx="417.90" cy="311.31" r="1.1" fill="#111"/>
<circle cx="415.40" cy="314.81" r="1.1" fill="#111"/>
<line x1="424.70000000000005" y1="300.4755" x2="424.70000000000005" y2="307.4655" stroke="#222" stroke-width="1.1"/>
<line x1="422.6" y1="300.4755" x2="426.80000000000007" y2="300.4755" stroke="#222" stroke-width="1.1"/>
<line x1="422.6" y1="307.4655" x2="426.80000000000007" y2="307.4655" stroke="#222" stroke-width="1.1"/>
<circle cx="424.70" cy="274.96" r="1.1" fill="#111"/>
<circle cx="424.70" cy="292.79" r="1.1" fill="#111"/>
<circle cx="421.70" cy="309.91" r="1.1" fill="#111"/>
<circle cx="427.70" cy="309.91" r="1.1" fill="#111"/>
<circle cx="424.70" cy="315.85" r="1.1" fill="#111"/>
<line x1="434.00000000000006" y1="243.507" x2="434.00000000000006" y2="271.467" stroke="#222" stroke-width="1.1"/>
<line x1="431.90000000000003" y1="243.507" x2="436.1000000000001" y2="243.507" stroke="#222" stroke-width="1.1"/>
<line x1="431.90000000000003" y1="271.467" x2="436.1000000000001" y2="271.467" stroke="#222" stroke-width="1.1"/>
<circle cx="434.00" cy="197.80" r="1.1" fill="#111"/>
<circle cx="434.00" cy="230.93" r="1.1" fill="#111"/>
<circle cx="434.00" cy="250.15" r="1.1" fill="#111"/>
<circle cx="432.00" cy="272.87" r="1.1" fill="#111"/>
<circle cx="436.00" cy="279.86" r="1.1" fill="#111"/>
<circle cx="434.00" cy="290.34" r="1.1" fill="#111"/>
<line x1="443.3" y1="301.87350000000004" x2="443.3" y2="308.16450000000003" stroke="#222" stroke-width="1.1"/>
<line x1="441.2" y1="301.87350000000004" x2="445.40000000000003" y2="301.87350000000004" stroke="#222" stroke-width="1.1"/>
<line x1="441.2" y1="308.16450000000003" x2="445.40000000000003" y2="308.16450000000003" stroke="#222" stroke-width="1.1"/>
<circle cx="443.30" cy="291.39" r="1.1" fill="#111"/>
<circle cx="439.30" cy="297.33" r="1.1" fill="#111"/>
<circle cx="443.30" cy="297.33" r="1.1" fill="#111"/>
<circle cx="447.30" cy="297.33" r="1.1" fill="#111"/>
<circle cx="443.30" cy="307.81" r="1.1" fill="#111"/>
<circle cx="441.30" cy="313.06" r="1.1" fill="#111"/>
<line x1="452.6" y1="262.0305" x2="452.6" y2="276.0105" stroke="#222" stroke-width="1.1"/>
<line x1="450.5" y1="262.0305" x2="454.70000000000005" y2="262.0305" stroke="#222" stroke-width="1.1"/>
<line x1="450.5" y1="276.0105" x2="454.70000000000005" y2="276.0105" stroke="#222" stroke-width="1.1"/>
<circle cx="452.60" cy="229.18" r="1.1" fill="#111"/>
<circle cx="452.60" cy="252.94" r="1.1" fill="#111"/>
<circle cx="452.60" cy="256.79" r="1.1" fill="#111"/>
<circle cx="450.60" cy="276.36" r="1.1" fill="#111"/>
<circle cx="454.60" cy="283.35" r="1.1" fill="#111"/>
<circle cx="452.60" cy="290.34" r="1.1" fill="#111"/>
<line x1="434.1" y1="318.3" x2="434.1" y2="321.5" stroke="#222" stroke-width="1"/>
<text x="434.1" y="333.71" font-size="8.7" text-anchor="middle" textLength="10.6" lengthAdjust="spacingAndGlyphs" fill="#222" stroke="#222" stroke-width="0.14">15</text>
<rect x="462.10" y="306.77" width="8.20" height="11.53" fill="#4b5568"/>
<rect x="471.40" y="307.47" width="8.20" height="10.83" fill="#c8c8cb"/>
<rect x="480.70" y="277.76" width="8.20" height="40.54" fill="#0f4e8c"/>
<rect x="490.00" y="306.77" width="8.20" height="11.53" fill="#cc0f2d"/>
<rect x="499.30" y="279.51" width="8.20" height="38.79" fill="#5d1e6c"/>
<line x1="466.20000000000005" y1="304.32" x2="466.20000000000005" y2="309.213" stroke="#222" stroke-width="1.1"/>
<line x1="464.1" y1="304.32" x2="468.30000000000007" y2="304.32" stroke="#222" stroke-width="1.1"/>
<line x1="464.1" y1="309.213" x2="468.30000000000007" y2="309.213" stroke="#222" stroke-width="1.1"/>
<circle cx="466.20" cy="284.40" r="1.1" fill="#111"/>
<circle cx="464.00" cy="300.82" r="1.1" fill="#111"/>
<circle cx="468.20" cy="299.43" r="1.1" fill="#111"/>
<circle cx="466.20" cy="310.61" r="1.1" fill="#111"/>
<circle cx="463.70" cy="314.11" r="1.1" fill="#111"/>
<circle cx="468.70" cy="314.11" r="1.1" fill="#111"/>
<line x1="475.50000000000006" y1="305.019" x2="475.50000000000006" y2="309.91200000000003" stroke="#222" stroke-width="1.1"/>
<line x1="473.40000000000003" y1="305.019" x2="477.6000000000001" y2="305.019" stroke="#222" stroke-width="1.1"/>
<line x1="473.40000000000003" y1="309.91200000000003" x2="477.6000000000001" y2="309.91200000000003" stroke="#222" stroke-width="1.1"/>
<circle cx="475.50" cy="289.99" r="1.1" fill="#111"/>
<circle cx="475.50" cy="303.27" r="1.1" fill="#111"/>
<circle cx="472.50" cy="308.86" r="1.1" fill="#111"/>
<circle cx="478.50" cy="308.86" r="1.1" fill="#111"/>
<circle cx="472.50" cy="315.15" r="1.1" fill="#111"/>
<circle cx="478.50" cy="315.15" r="1.1" fill="#111"/>
<line x1="484.80000000000007" y1="272.51550000000003" x2="484.80000000000007" y2="283.0005" stroke="#222" stroke-width="1.1"/>
<line x1="482.70000000000005" y1="272.51550000000003" x2="486.9000000000001" y2="272.51550000000003" stroke="#222" stroke-width="1.1"/>
<line x1="482.70000000000005" y1="283.0005" x2="486.9000000000001" y2="283.0005" stroke="#222" stroke-width="1.1"/>
<circle cx="484.80" cy="236.87" r="1.1" fill="#111"/>
<circle cx="481.80" cy="272.87" r="1.1" fill="#111"/>
<circle cx="487.80" cy="274.61" r="1.1" fill="#111"/>
<circle cx="484.80" cy="276.36" r="1.1" fill="#111"/>
<circle cx="484.80" cy="293.84" r="1.1" fill="#111"/>
<circle cx="484.80" cy="307.81" r="1.1" fill="#111"/>
<line x1="494.1" y1="303.9705" x2="494.1" y2="309.5625" stroke="#222" stroke-width="1.1"/>
<line x1="492.0" y1="303.9705" x2="496.20000000000005" y2="303.9705" stroke="#222" stroke-width="1.1"/>
<line x1="492.0" y1="309.5625" x2="496.20000000000005" y2="309.5625" stroke="#222" stroke-width="1.1"/>
<circle cx="494.10" cy="276.71" r="1.1" fill="#111"/>
<circle cx="491.10" cy="307.12" r="1.1" fill="#111"/>
<circle cx="494.10" cy="307.12" r="1.1" fill="#111"/>
<circle cx="497.10" cy="307.12" r="1.1" fill="#111"/>
<circle cx="494.10" cy="313.06" r="1.1" fill="#111"/>
<line x1="503.40000000000003" y1="273.9135" x2="503.40000000000003" y2="285.0975" stroke="#222" stroke-width="1.1"/>
<line x1="501.3" y1="273.9135" x2="505.50000000000006" y2="273.9135" stroke="#222" stroke-width="1.1"/>
<line x1="501.3" y1="285.0975" x2="505.50000000000006" y2="285.0975" stroke="#222" stroke-width="1.1"/>
<circle cx="503.40" cy="233.02" r="1.1" fill="#111"/>
<circle cx="500.40" cy="272.87" r="1.1" fill="#111"/>
<circle cx="506.40" cy="272.87" r="1.1" fill="#111"/>
<circle cx="503.40" cy="275.31" r="1.1" fill="#111"/>
<circle cx="503.40" cy="290.34" r="1.1" fill="#111"/>
<circle cx="503.40" cy="300.82" r="1.1" fill="#111"/>
<line x1="484.90000000000003" y1="318.3" x2="484.90000000000003" y2="321.5" stroke="#222" stroke-width="1"/>
<text x="484.9" y="333.71" font-size="8.7" text-anchor="middle" textLength="10.6" lengthAdjust="spacingAndGlyphs" fill="#222" stroke="#222" stroke-width="0.14">30</text>
<text x="408.9" y="348.6" font-size="10.2" text-anchor="middle" textLength="81.8" lengthAdjust="spacingAndGlyphs" fill="#222" stroke="#222" stroke-width="0.3">Minutes post-stimulation</text>
<text x="8.6" y="382" font-size="12.8" font-weight="bold" fill="#111" stroke="#111" stroke-width="0.45">B</text>
<line x1="48.5" y1="405" x2="48.5" y2="539.5" stroke="#222" stroke-width="1.2"/>
<line x1="45.8" y1="538.9" x2="245.8" y2="538.9" stroke="#222" stroke-width="1.2"/>
<line x1="45.5" y1="538.9" x2="48.5" y2="538.9" stroke="#222" stroke-width="1"/>
<text x="42.4" y="542.01" font-size="8.7" text-anchor="end" textLength="5.6" lengthAdjust="spacingAndGlyphs" fill="#222" stroke="#222" stroke-width="0.14">0</text>
<line x1="45.5" y1="506.14" x2="48.5" y2="506.14" stroke="#222" stroke-width="1"/>
<text x="42.4" y="509.25" font-size="8.7" text-anchor="end" textLength="5.6" lengthAdjust="spacingAndGlyphs" fill="#222" stroke="#222" stroke-width="0.14">2</text>
<line x1="45.5" y1="473.38" x2="48.5" y2="473.38" stroke="#222" stroke-width="1"/>
<text x="42.4" y="476.49" font-size="8.7" text-anchor="end" textLength="5.6" lengthAdjust="spacingAndGlyphs" fill="#222" stroke="#222" stroke-width="0.14">4</text>
<line x1="45.5" y1="440.62" x2="48.5" y2="440.62" stroke="#222" stroke-width="1"/>
<text x="42.4" y="443.73" font-size="8.7" text-anchor="end" textLength="5.6" lengthAdjust="spacingAndGlyphs" fill="#222" stroke="#222" stroke-width="0.14">6</text>
<line x1="45.5" y1="407.86" x2="48.5" y2="407.86" stroke="#222" stroke-width="1"/>
<text x="42.4" y="410.97" font-size="8.7" text-anchor="end" textLength="5.6" lengthAdjust="spacingAndGlyphs" fill="#222" stroke="#222" stroke-width="0.14">8</text>
<text font-size="10.5" text-anchor="middle" fill="#222" stroke="#222" stroke-width="0.3" transform="translate(30.3,473.7) rotate(-90)" textLength="83.9" lengthAdjust="spacingAndGlyphs">Firefly/<tspan font-style="italic">Renilla</tspan> luciferase</text>
<text x="159.2" y="398.9" font-size="10.3" text-anchor="end" textLength="25.2" lengthAdjust="spacingAndGlyphs" fill="#222" stroke="#222" stroke-width="0.14">NFAT</text>
<rect x="53.00" y="537.70" width="2.20" height="1.00" fill="#333"/>
<rect x="56.90" y="537.70" width="2.20" height="1.00" fill="#333"/>
<rect x="60.80" y="537.70" width="2.20" height="1.00" fill="#333"/>
<rect x="64.70" y="537.70" width="2.20" height="1.00" fill="#333"/>
<rect x="68.60" y="537.70" width="2.20" height="1.00" fill="#333"/>
<rect x="72.50" y="537.70" width="2.20" height="1.00" fill="#333"/>
<rect x="76.40" y="537.70" width="2.20" height="1.00" fill="#333"/>
<rect x="80.30" y="537.70" width="2.20" height="1.00" fill="#333"/>
<rect x="84.20" y="537.70" width="2.20" height="1.00" fill="#333"/>
<rect x="88.10" y="537.70" width="2.20" height="1.00" fill="#333"/>
<rect x="92.00" y="537.70" width="2.20" height="1.00" fill="#333"/>
<rect x="95.90" y="537.70" width="2.20" height="1.00" fill="#333"/>
<rect x="99.80" y="537.70" width="2.20" height="1.00" fill="#333"/>
<rect x="103.70" y="537.70" width="2.20" height="1.00" fill="#333"/>
<rect x="107.60" y="537.70" width="2.20" height="1.00" fill="#333"/>
<rect x="111.50" y="537.70" width="2.20" height="1.00" fill="#333"/>
<rect x="115.40" y="537.70" width="2.20" height="1.00" fill="#333"/>
<rect x="119.30" y="537.70" width="2.20" height="1.00" fill="#333"/>
<rect x="123.20" y="537.70" width="2.20" height="1.00" fill="#333"/>
<rect x="127.10" y="537.70" width="2.20" height="1.00" fill="#333"/>
<rect x="131.00" y="537.70" width="2.20" height="1.00" fill="#333"/>
<rect x="134.90" y="537.70" width="2.20" height="1.00" fill="#333"/>
<rect x="138.80" y="537.70" width="2.20" height="1.00" fill="#333"/>
<rect x="142.70" y="537.70" width="2.20" height="1.00" fill="#333"/>
<rect x="146.60" y="537.70" width="2.20" height="1.00" fill="#333"/>
<line x1="100" y1="538.9" x2="100" y2="542.2" stroke="#222" stroke-width="1"/>
<text x="99.9" y="553.7" font-size="8.9" text-anchor="middle" textLength="40.2" lengthAdjust="spacingAndGlyphs" fill="#222" stroke="#222" stroke-width="0.14">IgG CTRL</text>
<rect x="152.30" y="533.49" width="15.60" height="5.41" fill="#4b5568"/>
<rect x="169.50" y="521.54" width="15.60" height="17.36" fill="#c8c8cb"/>
<rect x="186.70" y="470.10" width="15.60" height="68.80" fill="#0f4e8c"/>
<rect x="203.90" y="502.04" width="15.60" height="36.86" fill="#cc0f2d"/>
<rect x="221.10" y="448.81" width="15.60" height="90.09" fill="#5d1e6c"/>
<line x1="160.10000000000002" y1="533.0032" x2="160.10000000000002" y2="533.986" stroke="#222" stroke-width="1"/>
<line x1="156.60000000000002" y1="533.0032" x2="163.60000000000002" y2="533.0032" stroke="#222" stroke-width="1"/>
<line x1="156.60000000000002" y1="533.986" x2="163.60000000000002" y2="533.986" stroke="#222" stroke-width="1"/>
<circle cx="155.10" cy="532.84" r="1.05" fill="#111"/>
<circle cx="158.40" cy="532.84" r="1.05" fill="#111"/>
<circle cx="161.80" cy="532.84" r="1.05" fill="#111"/>
<circle cx="165.10" cy="532.84" r="1.05" fill="#111"/>
<line x1="177.3" y1="519.5716" x2="177.3" y2="523.5028" stroke="#222" stroke-width="1"/>
<line x1="173.8" y1="519.5716" x2="180.8" y2="519.5716" stroke="#222" stroke-width="1"/>
<line x1="173.8" y1="523.5028" x2="180.8" y2="523.5028" stroke="#222" stroke-width="1"/>
<circle cx="177.30" cy="517.28" r="1.05" fill="#111"/>
<circle cx="175.10" cy="519.57" r="1.05" fill="#111"/>
<circle cx="179.50" cy="520.55" r="1.05" fill="#111"/>
<circle cx="177.30" cy="523.01" r="1.05" fill="#111"/>
<line x1="194.5" y1="463.22439999999995" x2="194.5" y2="476.98359999999997" stroke="#222" stroke-width="1"/>
<line x1="191.0" y1="463.22439999999995" x2="198.0" y2="463.22439999999995" stroke="#222" stroke-width="1"/>
<line x1="191.0" y1="476.98359999999997" x2="198.0" y2="476.98359999999997" stroke="#222" stroke-width="1"/>
<circle cx="194.50" cy="457.82" r="1.05" fill="#111"/>
<circle cx="194.50" cy="465.19" r="1.05" fill="#111"/>
<circle cx="192.50" cy="473.38" r="1.05" fill="#111"/>
<circle cx="194.50" cy="483.21" r="1.05" fill="#111"/>
<line x1="211.70000000000002" y1="496.31199999999995" x2="211.70000000000002" y2="507.77799999999996" stroke="#222" stroke-width="1"/>
<line x1="208.20000000000002" y1="496.31199999999995" x2="215.20000000000002" y2="496.31199999999995" stroke="#222" stroke-width="1"/>
<line x1="208.20000000000002" y1="507.77799999999996" x2="215.20000000000002" y2="507.77799999999996" stroke="#222" stroke-width="1"/>
<circle cx="211.70" cy="491.40" r="1.05" fill="#111"/>
<circle cx="211.70" cy="504.50" r="1.05" fill="#111"/>
<circle cx="213.70" cy="507.78" r="1.05" fill="#111"/>
<line x1="228.9" y1="441.93039999999996" x2="228.9" y2="455.6896" stroke="#222" stroke-width="1"/>
<line x1="225.4" y1="441.93039999999996" x2="232.4" y2="441.93039999999996" stroke="#222" stroke-width="1"/>
<line x1="225.4" y1="455.6896" x2="232.4" y2="455.6896" stroke="#222" stroke-width="1"/>
<circle cx="227.30" cy="437.67" r="1.05" fill="#111"/>
<circle cx="230.50" cy="435.71" r="1.05" fill="#111"/>
<circle cx="228.90" cy="452.09" r="1.05" fill="#111"/>
<circle cx="228.90" cy="457.00" r="1.05" fill="#111"/>
<line x1="194.2" y1="538.9" x2="194.2" y2="542.2" stroke="#222" stroke-width="1"/>
<text x="194.1" y="553.9" font-size="9.2" text-anchor="middle" textLength="45" lengthAdjust="spacingAndGlyphs" fill="#222" stroke="#222" stroke-width="0.14">CD3/CD28</text>
<line x1="177.5" y1="396.3" x2="228.8" y2="396.3" stroke="#444" stroke-width="0.9"/>
<circle cx="198.05" cy="391.30" r="1.25" fill="#1a1a1a"/>
<circle cx="201.45" cy="391.30" r="1.25" fill="#1a1a1a"/>
<circle cx="204.85" cy="391.30" r="1.25" fill="#1a1a1a"/>
<circle cx="208.25" cy="391.30" r="1.25" fill="#1a1a1a"/>
<line x1="177.5" y1="408.5" x2="211.5" y2="408.5" stroke="#444" stroke-width="0.9"/>
<circle cx="191.10" cy="403.50" r="1.25" fill="#1a1a1a"/>
<circle cx="194.50" cy="403.50" r="1.25" fill="#1a1a1a"/>
<circle cx="197.90" cy="403.50" r="1.25" fill="#1a1a1a"/>
<line x1="194.8" y1="420.4" x2="228.8" y2="420.4" stroke="#444" stroke-width="0.9"/>
<circle cx="208.40" cy="415.40" r="1.25" fill="#1a1a1a"/>
<circle cx="211.80" cy="415.40" r="1.25" fill="#1a1a1a"/>
<circle cx="215.20" cy="415.40" r="1.25" fill="#1a1a1a"/>
<line x1="177.5" y1="432.5" x2="194.2" y2="432.5" stroke="#444" stroke-width="0.9"/>
<circle cx="180.75" cy="427.50" r="1.25" fill="#1a1a1a"/>
<circle cx="184.15" cy="427.50" r="1.25" fill="#1a1a1a"/>
<circle cx="187.55" cy="427.50" r="1.25" fill="#1a1a1a"/>
<circle cx="190.95" cy="427.50" r="1.25" fill="#1a1a1a"/>
<line x1="212.1" y1="432.5" x2="228.8" y2="432.5" stroke="#444" stroke-width="0.9"/>
<circle cx="215.35" cy="427.50" r="1.25" fill="#1a1a1a"/>
<circle cx="218.75" cy="427.50" r="1.25" fill="#1a1a1a"/>
<circle cx="222.15" cy="427.50" r="1.25" fill="#1a1a1a"/>
<circle cx="225.55" cy="427.50" r="1.25" fill="#1a1a1a"/>
<line x1="194.8" y1="447.3" x2="211.5" y2="447.3" stroke="#444" stroke-width="0.9"/>
<circle cx="198.05" cy="442.30" r="1.25" fill="#1a1a1a"/>
<circle cx="201.45" cy="442.30" r="1.25" fill="#1a1a1a"/>
<circle cx="204.85" cy="442.30" r="1.25" fill="#1a1a1a"/>
<circle cx="208.25" cy="442.30" r="1.25" fill="#1a1a1a"/>
<text x="263.3" y="382" font-size="12.8" font-weight="bold" fill="#111" stroke="#111" stroke-width="0.45">C</text>
<line x1="308.3" y1="405" x2="308.3" y2="539.7" stroke="#222" stroke-width="1.2"/>
<line x1="305.5" y1="539.2" x2="504.7" y2="539.2" stroke="#222" stroke-width="1.2"/>
<line x1="305.3" y1="539.2" x2="308.3" y2="539.2" stroke="#222" stroke-width="1"/>
<text x="301.6" y="542.31" font-size="8.7" text-anchor="end" textLength="5.6" lengthAdjust="spacingAndGlyphs" fill="#222" stroke="#222" stroke-width="0.14">0</text>
<line x1="305.3" y1="512.9000000000001" x2="308.3" y2="512.9000000000001" stroke="#222" stroke-width="1"/>
<text x="301.6" y="516.01" font-size="8.7" text-anchor="end" textLength="10.6" lengthAdjust="spacingAndGlyphs" fill="#222" stroke="#222" stroke-width="0.14">10</text>
<line x1="305.3" y1="486.6" x2="308.3" y2="486.6" stroke="#222" stroke-width="1"/>
<text x="301.6" y="489.71" font-size="8.7" text-anchor="end" textLength="10.6" lengthAdjust="spacingAndGlyphs" fill="#222" stroke="#222" stroke-width="0.14">20</text>
<line x1="305.3" y1="460.30000000000007" x2="308.3" y2="460.30000000000007" stroke="#222" stroke-width="1"/>
<text x="301.6" y="463.41" font-size="8.7" text-anchor="end" textLength="10.6" lengthAdjust="spacingAndGlyphs" fill="#222" stroke="#222" stroke-width="0.14">30</text>
<line x1="305.3" y1="434.00000000000006" x2="308.3" y2="434.00000000000006" stroke="#222" stroke-width="1"/>
<text x="301.6" y="437.11" font-size="8.7" text-anchor="end" textLength="10.6" lengthAdjust="spacingAndGlyphs" fill="#222" stroke="#222" stroke-width="0.14">40</text>
<line x1="305.3" y1="407.70000000000005" x2="308.3" y2="407.70000000000005" stroke="#222" stroke-width="1"/>
<text x="301.6" y="410.81" font-size="8.7" text-anchor="end" textLength="10.6" lengthAdjust="spacingAndGlyphs" fill="#222" stroke="#222" stroke-width="0.14">50</text>
<text font-size="10.5" text-anchor="middle" fill="#222" stroke="#222" stroke-width="0.3" transform="translate(285.0,473.5) rotate(-90)" textLength="83.3" lengthAdjust="spacingAndGlyphs">Firefly/<tspan font-style="italic">Renilla</tspan> luciferase</text>
<text x="414.4" y="398.7" font-size="10.8" text-anchor="end" textLength="16.6" lengthAdjust="spacingAndGlyphs" fill="#222" stroke="#222" stroke-width="0.14">AP1</text>
<rect x="313.00" y="538.00" width="2.60" height="1.00" fill="#333"/>
<rect x="317.20" y="538.00" width="2.60" height="1.00" fill="#333"/>
<rect x="321.40" y="538.00" width="2.60" height="1.00" fill="#333"/>
<rect x="325.60" y="538.00" width="2.60" height="1.00" fill="#333"/>
<rect x="329.80" y="538.00" width="2.60" height="1.00" fill="#333"/>
<rect x="334.00" y="538.00" width="2.60" height="1.00" fill="#333"/>
<rect x="338.20" y="538.00" width="2.60" height="1.00" fill="#333"/>
<rect x="342.40" y="538.00" width="2.60" height="1.00" fill="#333"/>
<rect x="346.60" y="538.00" width="2.60" height="1.00" fill="#333"/>
<rect x="350.80" y="538.00" width="2.60" height="1.00" fill="#333"/>
<rect x="355.00" y="538.00" width="2.60" height="1.00" fill="#333"/>
<rect x="359.20" y="538.00" width="2.60" height="1.00" fill="#333"/>
<rect x="363.40" y="538.00" width="2.60" height="1.00" fill="#333"/>
<rect x="367.60" y="538.00" width="2.60" height="1.00" fill="#333"/>
<rect x="371.80" y="538.00" width="2.60" height="1.00" fill="#333"/>
<rect x="376.00" y="538.00" width="2.60" height="1.00" fill="#333"/>
<rect x="380.20" y="538.00" width="2.60" height="1.00" fill="#333"/>
<rect x="384.40" y="538.00" width="2.60" height="1.00" fill="#333"/>
<rect x="388.60" y="538.00" width="2.60" height="1.00" fill="#333"/>
<rect x="392.80" y="538.00" width="2.60" height="1.00" fill="#333"/>
<rect x="397.00" y="538.00" width="2.60" height="1.00" fill="#333"/>
<rect x="401.20" y="538.00" width="2.60" height="1.00" fill="#333"/>
<rect x="405.40" y="538.00" width="2.60" height="1.00" fill="#333"/>
<line x1="359.6" y1="539.2" x2="359.6" y2="542.4" stroke="#222" stroke-width="1"/>
<text x="359.5" y="553.7" font-size="8.9" text-anchor="middle" textLength="40.2" lengthAdjust="spacingAndGlyphs" fill="#222" stroke="#222" stroke-width="0.14">IgG CTRL</text>
<rect x="411.60" y="500.28" width="15.60" height="38.92" fill="#4b5568"/>
<rect x="428.90" y="498.17" width="15.60" height="41.03" fill="#c8c8cb"/>
<rect x="446.20" y="463.98" width="15.60" height="75.22" fill="#0f4e8c"/>
<rect x="463.40" y="480.81" width="15.60" height="58.39" fill="#cc0f2d"/>
<rect x="480.60" y="451.10" width="15.60" height="88.11" fill="#5d1e6c"/>
<line x1="419.40000000000003" y1="492.91200000000003" x2="419.40000000000003" y2="507.64000000000004" stroke="#222" stroke-width="1"/>
<line x1="415.90000000000003" y1="492.91200000000003" x2="422.90000000000003" y2="492.91200000000003" stroke="#222" stroke-width="1"/>
<line x1="415.90000000000003" y1="507.64000000000004" x2="422.90000000000003" y2="507.64000000000004" stroke="#222" stroke-width="1"/>
<circle cx="419.40" cy="483.97" r="1.0" fill="#111"/>
<circle cx="419.40" cy="506.33" r="1.0" fill="#111"/>
<circle cx="419.40" cy="511.59" r="1.0" fill="#111"/>
<line x1="436.7" y1="492.386" x2="436.7" y2="503.958" stroke="#222" stroke-width="1"/>
<line x1="433.2" y1="492.386" x2="440.2" y2="492.386" stroke="#222" stroke-width="1"/>
<line x1="433.2" y1="503.958" x2="440.2" y2="503.958" stroke="#222" stroke-width="1"/>
<circle cx="436.70" cy="486.86" r="1.0" fill="#111"/>
<circle cx="436.70" cy="505.01" r="1.0" fill="#111"/>
<circle cx="436.70" cy="514.22" r="1.0" fill="#111"/>
<line x1="454.0" y1="457.14400000000006" x2="454.0" y2="470.82000000000005" stroke="#222" stroke-width="1"/>
<line x1="450.5" y1="457.14400000000006" x2="457.5" y2="457.14400000000006" stroke="#222" stroke-width="1"/>
<line x1="450.5" y1="470.82000000000005" x2="457.5" y2="470.82000000000005" stroke="#222" stroke-width="1"/>
<circle cx="454.00" cy="451.62" r="1.0" fill="#111"/>
<circle cx="454.00" cy="468.19" r="1.0" fill="#111"/>
<circle cx="454.00" cy="473.45" r="1.0" fill="#111"/>
<line x1="471.2" y1="473.7130000000001" x2="471.2" y2="487.9150000000001" stroke="#222" stroke-width="1"/>
<line x1="467.7" y1="473.7130000000001" x2="474.7" y2="473.7130000000001" stroke="#222" stroke-width="1"/>
<line x1="467.7" y1="487.9150000000001" x2="474.7" y2="487.9150000000001" stroke="#222" stroke-width="1"/>
<circle cx="471.20" cy="466.09" r="1.0" fill="#111"/>
<circle cx="471.20" cy="483.97" r="1.0" fill="#111"/>
<circle cx="471.20" cy="489.23" r="1.0" fill="#111"/>
<line x1="488.40000000000003" y1="439.78600000000006" x2="488.40000000000003" y2="462.40400000000005" stroke="#222" stroke-width="1"/>
<line x1="484.90000000000003" y1="439.78600000000006" x2="491.90000000000003" y2="439.78600000000006" stroke="#222" stroke-width="1"/>
<line x1="484.90000000000003" y1="462.40400000000005" x2="491.90000000000003" y2="462.40400000000005" stroke="#222" stroke-width="1"/>
<circle cx="488.40" cy="426.11" r="1.0" fill="#111"/>
<circle cx="488.40" cy="436.63" r="1.0" fill="#111"/>
<circle cx="488.40" cy="447.15" r="1.0" fill="#111"/>
<circle cx="488.40" cy="460.30" r="1.0" fill="#111"/>
<line x1="454" y1="539.2" x2="454" y2="542.4" stroke="#222" stroke-width="1"/>
<text x="453.6" y="553.9" font-size="9.2" text-anchor="middle" textLength="45" lengthAdjust="spacingAndGlyphs" fill="#222" stroke="#222" stroke-width="0.14">CD3/CD28</text>
<line x1="436.6" y1="389.4" x2="488.3" y2="389.4" stroke="#444" stroke-width="0.9"/>
<circle cx="457.35" cy="384.40" r="1.25" fill="#1a1a1a"/>
<circle cx="460.75" cy="384.40" r="1.25" fill="#1a1a1a"/>
<circle cx="464.15" cy="384.40" r="1.25" fill="#1a1a1a"/>
<circle cx="467.55" cy="384.40" r="1.25" fill="#1a1a1a"/>
<line x1="454.2" y1="400.3" x2="488.3" y2="400.3" stroke="#444" stroke-width="0.9"/>
<circle cx="469.55" cy="395.30" r="1.25" fill="#1a1a1a"/>
<circle cx="472.95" cy="395.30" r="1.25" fill="#1a1a1a"/>
<line x1="436.6" y1="412.3" x2="471" y2="412.3" stroke="#444" stroke-width="0.9"/>
<circle cx="450.40" cy="407.30" r="1.25" fill="#1a1a1a"/>
<circle cx="453.80" cy="407.30" r="1.25" fill="#1a1a1a"/>
<circle cx="457.20" cy="407.30" r="1.25" fill="#1a1a1a"/>
<line x1="436.6" y1="424.3" x2="453.4" y2="424.3" stroke="#444" stroke-width="0.9"/>
<circle cx="439.90" cy="419.30" r="1.25" fill="#1a1a1a"/>
<circle cx="443.30" cy="419.30" r="1.25" fill="#1a1a1a"/>
<circle cx="446.70" cy="419.30" r="1.25" fill="#1a1a1a"/>
<circle cx="450.10" cy="419.30" r="1.25" fill="#1a1a1a"/>
<line x1="471.5" y1="424.3" x2="488.3" y2="424.3" stroke="#444" stroke-width="0.9"/>
<circle cx="474.80" cy="419.30" r="1.25" fill="#1a1a1a"/>
<circle cx="478.20" cy="419.30" r="1.25" fill="#1a1a1a"/>
<circle cx="481.60" cy="419.30" r="1.25" fill="#1a1a1a"/>
<circle cx="485.00" cy="419.30" r="1.25" fill="#1a1a1a"/>
<line x1="454.2" y1="438" x2="471" y2="438" stroke="#444" stroke-width="0.9"/>
<circle cx="459.20" cy="433.00" r="1.25" fill="#1a1a1a"/>
<circle cx="462.60" cy="433.00" r="1.25" fill="#1a1a1a"/>
<circle cx="466.00" cy="433.00" r="1.25" fill="#1a1a1a"/>
<text x="8.3" y="585" font-size="12.8" font-weight="bold" fill="#111" stroke="#111" stroke-width="0.45">D</text>
<line x1="64.2" y1="597" x2="64.2" y2="735.8" stroke="#222" stroke-width="1.2"/>
<line x1="61.5" y1="735.3" x2="266.5" y2="735.3" stroke="#222" stroke-width="1.2"/>
<line x1="61.2" y1="735.3" x2="64.2" y2="735.3" stroke="#222" stroke-width="1"/>
<text x="57.3" y="738.41" font-size="8.7" text-anchor="end" textLength="5.6" lengthAdjust="spacingAndGlyphs" fill="#222" stroke="#222" stroke-width="0.14">0</text>
<line x1="61.2" y1="690.0" x2="64.2" y2="690.0" stroke="#222" stroke-width="1"/>
<text x="57.3" y="693.11" font-size="8.7" text-anchor="end" textLength="20.6" lengthAdjust="spacingAndGlyphs" fill="#222" stroke="#222" stroke-width="0.14">2000</text>
<line x1="61.2" y1="644.6999999999999" x2="64.2" y2="644.6999999999999" stroke="#222" stroke-width="1"/>
<text x="57.3" y="647.81" font-size="8.7" text-anchor="end" textLength="20.6" lengthAdjust="spacingAndGlyphs" fill="#222" stroke="#222" stroke-width="0.14">4000</text>
<line x1="61.2" y1="599.4" x2="64.2" y2="599.4" stroke="#222" stroke-width="1"/>
<text x="57.3" y="602.51" font-size="8.7" text-anchor="end" textLength="20.6" lengthAdjust="spacingAndGlyphs" fill="#222" stroke="#222" stroke-width="0.14">6000</text>
<text x="0" y="0" font-size="10.3" text-anchor="middle" textLength="42.7" lengthAdjust="spacingAndGlyphs" fill="#222" stroke="#222" stroke-width="0.3" transform="translate(29.7,666.4) rotate(-90)">IL-2 (pg/mL)</text>
<rect x="68.00" y="734.10" width="2.20" height="1.00" fill="#333"/>
<rect x="72.00" y="734.10" width="2.20" height="1.00" fill="#333"/>
<rect x="76.00" y="734.10" width="2.20" height="1.00" fill="#333"/>
<rect x="80.00" y="734.10" width="2.20" height="1.00" fill="#333"/>
<rect x="84.00" y="734.10" width="2.20" height="1.00" fill="#333"/>
<rect x="88.00" y="734.10" width="2.20" height="1.00" fill="#333"/>
<rect x="92.00" y="734.10" width="2.20" height="1.00" fill="#333"/>
<rect x="96.00" y="734.10" width="2.20" height="1.00" fill="#333"/>
<rect x="100.00" y="734.10" width="2.20" height="1.00" fill="#333"/>
<rect x="104.00" y="734.10" width="2.20" height="1.00" fill="#333"/>
<rect x="108.00" y="734.10" width="2.20" height="1.00" fill="#333"/>
<rect x="112.00" y="734.10" width="2.20" height="1.00" fill="#333"/>
<rect x="116.00" y="734.10" width="2.20" height="1.00" fill="#333"/>
<rect x="120.00" y="734.10" width="2.20" height="1.00" fill="#333"/>
<rect x="124.00" y="734.10" width="2.20" height="1.00" fill="#333"/>
<rect x="128.00" y="734.10" width="2.20" height="1.00" fill="#333"/>
<rect x="132.00" y="734.10" width="2.20" height="1.00" fill="#333"/>
<rect x="136.00" y="734.10" width="2.20" height="1.00" fill="#333"/>
<rect x="140.00" y="734.10" width="2.20" height="1.00" fill="#333"/>
<rect x="144.00" y="734.10" width="2.20" height="1.00" fill="#333"/>
<rect x="148.00" y="734.10" width="2.20" height="1.00" fill="#333"/>
<rect x="152.00" y="734.10" width="2.20" height="1.00" fill="#333"/>
<rect x="156.00" y="734.10" width="2.20" height="1.00" fill="#333"/>
<rect x="160.00" y="734.10" width="2.20" height="1.00" fill="#333"/>
<line x1="99.6" y1="735.3" x2="99.6" y2="738.6" stroke="#222" stroke-width="1"/>
<text x="99.9" y="750.6" font-size="8.9" text-anchor="middle" textLength="40.2" lengthAdjust="spacingAndGlyphs" fill="#222" stroke="#222" stroke-width="0.14">IgG CTRL</text>
<rect x="136.00" y="700.42" width="10.80" height="34.88" fill="#4b5568"/>
<rect x="148.10" y="695.44" width="10.80" height="39.86" fill="#c8c8cb"/>
<rect x="160.20" y="671.20" width="10.80" height="64.10" fill="#0f4e8c"/>
<rect x="172.30" y="691.13" width="10.80" height="44.17" fill="#cc0f2d"/>
<rect x="184.30" y="642.66" width="10.80" height="92.64" fill="#5d1e6c"/>
<line x1="141.4" y1="698.3805" x2="141.4" y2="702.4575" stroke="#222" stroke-width="1"/>
<line x1="138.6" y1="698.3805" x2="144.20000000000002" y2="698.3805" stroke="#222" stroke-width="1"/>
<line x1="138.6" y1="702.4575" x2="144.20000000000002" y2="702.4575" stroke="#222" stroke-width="1"/>
<circle cx="141.40" cy="696.79" r="1.0" fill="#111"/>
<circle cx="141.40" cy="701.32" r="1.0" fill="#111"/>
<line x1="153.5" y1="694.077" x2="153.5" y2="696.795" stroke="#222" stroke-width="1"/>
<line x1="150.7" y1="694.077" x2="156.3" y2="694.077" stroke="#222" stroke-width="1"/>
<line x1="150.7" y1="696.795" x2="156.3" y2="696.795" stroke="#222" stroke-width="1"/>
<circle cx="153.50" cy="692.26" r="1.0" fill="#111"/>
<circle cx="153.50" cy="694.53" r="1.0" fill="#111"/>
<line x1="165.6" y1="669.1619999999999" x2="165.6" y2="673.2389999999999" stroke="#222" stroke-width="1"/>
<line x1="162.79999999999998" y1="669.1619999999999" x2="168.4" y2="669.1619999999999" stroke="#222" stroke-width="1"/>
<line x1="162.79999999999998" y1="673.2389999999999" x2="168.4" y2="673.2389999999999" stroke="#222" stroke-width="1"/>
<circle cx="165.60" cy="666.22" r="1.0" fill="#111"/>
<circle cx="165.60" cy="668.48" r="1.0" fill="#111"/>
<circle cx="165.60" cy="673.01" r="1.0" fill="#111"/>
<line x1="177.70000000000002" y1="688.641" x2="177.70000000000002" y2="693.6239999999999" stroke="#222" stroke-width="1"/>
<line x1="174.9" y1="688.641" x2="180.50000000000003" y2="688.641" stroke="#222" stroke-width="1"/>
<line x1="174.9" y1="693.6239999999999" x2="180.50000000000003" y2="693.6239999999999" stroke="#222" stroke-width="1"/>
<circle cx="177.70" cy="686.60" r="1.0" fill="#111"/>
<circle cx="177.70" cy="692.26" r="1.0" fill="#111"/>
<line x1="189.70000000000002" y1="635.1869999999999" x2="189.70000000000002" y2="650.136" stroke="#222" stroke-width="1"/>
<line x1="186.9" y1="635.1869999999999" x2="192.50000000000003" y2="635.1869999999999" stroke="#222" stroke-width="1"/>
<line x1="186.9" y1="650.136" x2="192.50000000000003" y2="650.136" stroke="#222" stroke-width="1"/>
<circle cx="189.70" cy="622.50" r="1.0" fill="#111"/>
<circle cx="189.70" cy="642.43" r="1.0" fill="#111"/>
<circle cx="189.70" cy="646.96" r="1.0" fill="#111"/>
<rect x="202.10" y="705.63" width="10.80" height="29.67" fill="#4b5568"/>
<rect x="214.10" y="705.18" width="10.80" height="30.12" fill="#c8c8cb"/>
<rect x="226.10" y="704.72" width="10.80" height="30.58" fill="#0f4e8c"/>
<rect x="238.10" y="704.95" width="10.80" height="30.35" fill="#cc0f2d"/>
<rect x="250.20" y="703.82" width="10.80" height="31.48" fill="#5d1e6c"/>
<line x1="207.5" y1="704.2695" x2="207.5" y2="706.9875" stroke="#222" stroke-width="1"/>
<line x1="204.7" y1="704.2695" x2="210.3" y2="704.2695" stroke="#222" stroke-width="1"/>
<line x1="204.7" y1="706.9875" x2="210.3" y2="706.9875" stroke="#222" stroke-width="1"/>
<circle cx="207.50" cy="704.04" r="1.0" fill="#111"/>
<circle cx="207.50" cy="706.99" r="1.0" fill="#111"/>
<line x1="219.5" y1="703.8164999999999" x2="219.5" y2="706.5345" stroke="#222" stroke-width="1"/>
<line x1="216.7" y1="703.8164999999999" x2="222.3" y2="703.8164999999999" stroke="#222" stroke-width="1"/>
<line x1="216.7" y1="706.5345" x2="222.3" y2="706.5345" stroke="#222" stroke-width="1"/>
<circle cx="219.50" cy="703.59" r="1.0" fill="#111"/>
<circle cx="219.50" cy="705.85" r="1.0" fill="#111"/>
<line x1="231.5" y1="703.137" x2="231.5" y2="706.308" stroke="#222" stroke-width="1"/>
<line x1="228.7" y1="703.137" x2="234.3" y2="703.137" stroke="#222" stroke-width="1"/>
<line x1="228.7" y1="706.308" x2="234.3" y2="706.308" stroke="#222" stroke-width="1"/>
<circle cx="231.50" cy="702.46" r="1.0" fill="#111"/>
<circle cx="231.50" cy="705.85" r="1.0" fill="#111"/>
<line x1="243.5" y1="703.5899999999999" x2="243.5" y2="706.308" stroke="#222" stroke-width="1"/>
<line x1="240.7" y1="703.5899999999999" x2="246.3" y2="703.5899999999999" stroke="#222" stroke-width="1"/>
<line x1="240.7" y1="706.308" x2="246.3" y2="706.308" stroke="#222" stroke-width="1"/>
<circle cx="243.50" cy="703.59" r="1.0" fill="#111"/>
<circle cx="243.50" cy="705.85" r="1.0" fill="#111"/>
<line x1="255.6" y1="702.4575" x2="255.6" y2="705.1754999999999" stroke="#222" stroke-width="1"/>
<line x1="252.79999999999998" y1="702.4575" x2="258.4" y2="702.4575" stroke="#222" stroke-width="1"/>
<line x1="252.79999999999998" y1="705.1754999999999" x2="258.4" y2="705.1754999999999" stroke="#222" stroke-width="1"/>
<circle cx="255.60" cy="702.46" r="1.0" fill="#111"/>
<circle cx="255.60" cy="704.72" r="1.0" fill="#111"/>
<line x1="165.4" y1="735.3" x2="165.4" y2="738.6" stroke="#222" stroke-width="1"/>
<line x1="231.2" y1="735.3" x2="231.2" y2="738.6" stroke="#222" stroke-width="1"/>
<text x="165.6" y="750.5" font-size="9.2" text-anchor="middle" textLength="45.5" lengthAdjust="spacingAndGlyphs" fill="#222" stroke="#222" stroke-width="0.14">CD3/CD28</text>
<text x="231.3" y="750.5" font-size="9.2" text-anchor="middle" textLength="45.5" lengthAdjust="spacingAndGlyphs" fill="#222" stroke="#222" stroke-width="0.14">CD3/CD28</text>
<text x="231.6" y="761.0" font-size="9.2" text-anchor="middle" textLength="58.6" lengthAdjust="spacingAndGlyphs" fill="#222" stroke="#222" stroke-width="0.14">+ 120 nM CsA</text>
<line x1="154" y1="599.3" x2="189.7" y2="599.3" stroke="#444" stroke-width="0.9"/>
<circle cx="166.70" cy="594.30" r="1.25" fill="#1a1a1a"/>
<circle cx="170.10" cy="594.30" r="1.25" fill="#1a1a1a"/>
<circle cx="173.50" cy="594.30" r="1.25" fill="#1a1a1a"/>
<circle cx="176.90" cy="594.30" r="1.25" fill="#1a1a1a"/>
<line x1="166" y1="612.6" x2="189.7" y2="612.6" stroke="#444" stroke-width="0.9"/>
<circle cx="172.50" cy="607.60" r="1.25" fill="#1a1a1a"/>
<circle cx="175.90" cy="607.60" r="1.25" fill="#1a1a1a"/>
<circle cx="179.30" cy="607.60" r="1.25" fill="#1a1a1a"/>
<circle cx="182.70" cy="607.60" r="1.25" fill="#1a1a1a"/>
<line x1="178.3" y1="626.6" x2="189.7" y2="626.6" stroke="#444" stroke-width="0.9"/>
<circle cx="176.40" cy="621.60" r="1.25" fill="#1a1a1a"/>
<circle cx="179.80" cy="621.60" r="1.25" fill="#1a1a1a"/>
<circle cx="183.20" cy="621.60" r="1.25" fill="#1a1a1a"/>
<circle cx="186.60" cy="621.60" r="1.25" fill="#1a1a1a"/>
<line x1="166" y1="644.4" x2="177.6" y2="644.4" stroke="#444" stroke-width="0.9"/>
<circle cx="166.70" cy="639.40" r="1.25" fill="#1a1a1a"/>
<circle cx="170.10" cy="639.40" r="1.25" fill="#1a1a1a"/>
<circle cx="173.50" cy="639.40" r="1.25" fill="#1a1a1a"/>
<circle cx="176.90" cy="639.40" r="1.25" fill="#1a1a1a"/>
<line x1="154" y1="662.2" x2="165.4" y2="662.2" stroke="#444" stroke-width="0.9"/>
<circle cx="154.90" cy="657.20" r="1.25" fill="#1a1a1a"/>
<circle cx="158.30" cy="657.20" r="1.25" fill="#1a1a1a"/>
<circle cx="161.70" cy="657.20" r="1.25" fill="#1a1a1a"/>
<circle cx="165.10" cy="657.20" r="1.25" fill="#1a1a1a"/>
<rect x="274.00" y="650.10" width="6.80" height="6.80" fill="#4b5568"/>
<text x="284.6" y="656.9" font-size="9.2" fill="#222" stroke="#222" stroke-width="0.14">empty / empty</text>
<rect x="274.00" y="662.13" width="6.80" height="6.80" fill="#c8c8cb"/>
<text x="284.6" y="668.93" font-size="9.2" fill="#222" stroke="#222" stroke-width="0.14">CD28 wt / RHOA wt</text>
<rect x="274.00" y="674.16" width="6.80" height="6.80" fill="#0f4e8c"/>
<text x="284.6" y="680.9599999999999" font-size="9.2" fill="#222" stroke="#222" stroke-width="0.14">CD28 T195P / RHOA wt</text>
<rect x="274.00" y="686.19" width="6.80" height="6.80" fill="#cc0f2d"/>
<text x="284.6" y="692.99" font-size="9.2" fill="#222" stroke="#222" stroke-width="0.14">CD28 wt / RHOA G17V</text>
<rect x="274.00" y="698.22" width="6.80" height="6.80" fill="#5d1e6c"/>
<text x="284.6" y="705.02" font-size="9.2" fill="#222" stroke="#222" stroke-width="0.14">CD28 T195P / RHOA G17V</text>
</svg><div id="b"></div></div></body></html>
